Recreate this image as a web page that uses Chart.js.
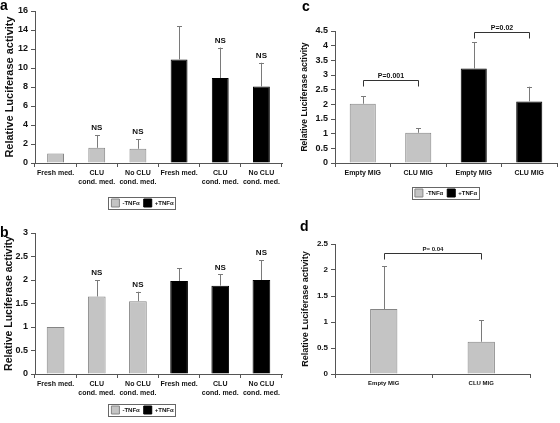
<!DOCTYPE html>
<html>
<head>
<meta charset="utf-8">
<script src="https://cdn.jsdelivr.net/npm/chart.js@4.4.0/dist/chart.umd.min.js"></script>
<style>
  body { margin: 0; background: #fff; width: 560px; height: 423px; position: relative; overflow: hidden; }
  canvas { position: absolute; }
</style>
</head>
<body>
<canvas id="pa" width="290" height="210" style="left:0;top:0"></canvas>
<canvas id="pb" width="290" height="213" style="left:0;top:210px"></canvas>
<canvas id="pc" width="270" height="210" style="left:290px;top:0"></canvas>
<canvas id="pd" width="270" height="213" style="left:290px;top:210px"></canvas>
<script>
// ---- data ----
const medLabels = [['Fresh med.'], ['CLU', 'cond. med.'], ['No CLU', 'cond. med.'],
                   ['Fresh med.'], ['CLU', 'cond. med.'], ['No CLU', 'cond. med.']];
const migLabels = ['Empty MIG', 'CLU MIG', 'Empty MIG', 'CLU MIG'];
const dLabels = ['Empty MIG', 'CLU MIG'];

// panel a
const aNoTnf = [1.0, 1.6, 1.5, null, null, null];
const aTnf   = [null, null, null, 10.9, 8.95, 8.05];
const aErr   = [0, 1.35, 1.0, 3.5, 3.2, 2.5];
const aNS    = [false, true, true, false, true, true];

// panel b
const bNoTnf = [1.0, 1.65, 1.55, null, null, null];
const bTnf   = [null, null, null, 1.98, 1.88, 2.0];
const bErr   = [0, 0.35, 0.2, 0.27, 0.24, 0.42];
const bNS    = [false, true, true, false, true, true];

// panel c
const cNoTnf = [2.02, 1.03, null, null];
const cTnf   = [null, null, 3.22, 2.1];
const cErr   = [0.26, 0.15, 0.9, 0.5];
const cBrackets = [{ from: 0, to: 1, y: 2.82, text: 'P=0.001' },
                   { from: 2, to: 3, y: 4.47, text: 'P=0.02' }];

// panel d
const dVals = [1.25, 0.62];
const dErr  = [0.82, 0.41];
const dBrackets = [{ from: 0, to: 1, y: 2.33, text: 'P= 0.04' }];

// ---- styling ----
const FONT = "'Liberation Sans', Arial, sans-serif";
const GRAY = '#c4c4c4', GRAY_EDGE = '#858585', AXIS = '#555';

const marksPlugin = {
    id: 'marks',
    afterDatasetsDraw(chart, args, opts) {
        const ctx = chart.ctx, ys = chart.scales.y, xs = chart.scales.x;
        ctx.save();
        // error bars (upper only) + NS
        chart.data.datasets.forEach((ds, di) => {
            const meta = chart.getDatasetMeta(di);
            ds.data.forEach((v, i) => {
                if (v === null || !ds.errors || !ds.errors[i]) return;
                const bar = meta.data[i];
                const top = ys.getPixelForValue(v + ds.errors[i]);
                ctx.strokeStyle = '#7a7a7a';
                ctx.lineWidth = 1;
                ctx.beginPath();
                ctx.moveTo(Math.round(bar.x) + 0.5, bar.y);
                ctx.lineTo(Math.round(bar.x) + 0.5, top);
                ctx.moveTo(Math.round(bar.x) - 2, Math.round(top) + 0.5);
                ctx.lineTo(Math.round(bar.x) + 3, Math.round(top) + 0.5);
                ctx.stroke();
                if (opts.ns && opts.ns[i]) {
                    ctx.fillStyle = '#111';
                    ctx.font = 'bold ' + opts.nsSize + 'px ' + FONT;
                    ctx.textAlign = 'center';
                    ctx.textBaseline = 'bottom';
                    ctx.fillText('NS', bar.x, top - 3);
                }
            });
        });
        // significance brackets
        (opts.brackets || []).forEach(b => {
            const x1 = Math.round(xs.getPixelForValue(b.from)) + 0.5;
            const x2 = Math.round(xs.getPixelForValue(b.to)) + 0.5;
            const y = Math.round(ys.getPixelForValue(b.y)) + 0.5;
            ctx.strokeStyle = '#333';
            ctx.lineWidth = 1;
            ctx.beginPath();
            ctx.moveTo(x1, y + 6); ctx.lineTo(x1, y); ctx.lineTo(x2, y); ctx.lineTo(x2, y + 6);
            ctx.stroke();
            ctx.fillStyle = '#111';
            ctx.font = 'bold ' + opts.pSize + 'px ' + FONT;
            ctx.textAlign = 'center';
            ctx.textBaseline = 'bottom';
            ctx.fillText(b.text, (x1 + x2) / 2, y - 1);
        });
        ctx.restore();
    },
    afterDraw(chart, args, opts) {
        const ctx = chart.ctx;
        ctx.save();
        // panel letter
        ctx.fillStyle = '#000';
        ctx.font = 'bold 14px ' + FONT;
        ctx.textAlign = 'left';
        ctx.textBaseline = 'top';
        ctx.fillText(opts.letter, opts.lx, opts.ly);
        // frame round the legend
        const lg = chart.legend;
        if (lg && lg.options.display && lg.legendHitBoxes.length) {
            const hb = lg.legendHitBoxes;
            const x0 = Math.min(...hb.map(h => h.left)) - 3;
            const x1 = Math.max(...hb.map(h => h.left + h.width)) + 2;
            const y0 = Math.min(...hb.map(h => h.top)) - 2;
            const y1 = Math.max(...hb.map(h => h.top + h.height)) + 2;
            ctx.strokeStyle = '#666';
            ctx.lineWidth = 1;
            ctx.strokeRect(Math.round(x0) + 0.5, Math.round(y0) + 0.5, Math.round(x1 - x0), Math.round(y1 - y0));
        }
        ctx.restore();
    }
};

function yAxis(max, step, tickSize, titleSize, width) {
    return {
        min: 0, max: max,
        ticks: { stepSize: step, color: '#111', padding: 3, callback: v => String(v),
                 font: { family: FONT, size: tickSize, weight: 'bold' } },
        grid: { drawOnChartArea: false, drawTicks: true, tickLength: 4, color: AXIS },
        border: { color: AXIS, width: 1 },
        title: { display: true, text: 'Relative Luciferase activity', color: '#111', padding: 0,
                 font: { family: FONT, size: titleSize, weight: 'bold' } },
        afterFit: s => { s.width = width; }
    };
}

function xAxis(labelSize, height) {
    return {
        ticks: { color: '#111', padding: 2, maxRotation: 0, autoSkip: false,
                 font: { family: FONT, size: labelSize, weight: 'bold', lineHeight: 1.25 } },
        grid: { drawOnChartArea: false, drawTicks: true, tickLength: 4, offset: true, color: AXIS },
        border: { color: AXIS, width: 1 },
        afterFit: s => { s.height = height; }
    };
}

function legendOpts(show, fullSize) {
    return {
        display: show, position: 'bottom', fullSize: fullSize,
        labels: { boxWidth: 8, boxHeight: 8, padding: 4, color: '#111',
                  font: { family: FONT, size: 6, weight: 'bold' } }
    };
}

function grayBars(data, errors, pct) {
    return { label: '-TNF\u03b1', data: data, errors: errors, grouped: false,
             backgroundColor: GRAY, borderColor: GRAY_EDGE, borderWidth: 1,
             barPercentage: pct, categoryPercentage: 1 };
}
function blackBars(data, errors, pct) {
    return { label: '+TNF\u03b1', data: data, errors: errors, grouped: false,
             backgroundColor: '#000', borderColor: '#000', borderWidth: 1,
             barPercentage: pct, categoryPercentage: 1 };
}

function makeChart(id, labels, datasets, o) {
    return new Chart(document.getElementById(id), {
        type: 'bar',
        data: { labels: labels, datasets: datasets },
        options: {
            responsive: false, animation: false,
            layout: { padding: o.padding },
            scales: { x: xAxis(o.xSize, o.xHeight), y: yAxis(o.max, o.step, o.tickSize, o.titleSize, o.yWidth) },
            plugins: {
                legend: legendOpts(o.legend, o.fullSize),
                tooltip: { enabled: false },
                marks: { letter: o.letter, lx: o.lx, ly: o.ly, ns: o.ns, nsSize: 8, brackets: o.brackets, pSize: o.pSize }
            }
        },
        plugins: [marksPlugin]
    });
}

makeChart('pa', medLabels, [grayBars(aNoTnf, aErr, 0.41), blackBars(aTnf, aErr, 0.41)],
    { max: 16, step: 2, tickSize: 9, titleSize: 11, yWidth: 32, xSize: 7, xHeight: 32,
      padding: { top: 11, right: 8, left: 3, bottom: -7 }, legend: true, fullSize: true,
      letter: 'a', lx: 0, ly: -1, ns: aNS });

makeChart('pb', medLabels, [grayBars(bNoTnf, bErr, 0.43), blackBars(bTnf, bErr, 0.43)],
    { max: 3, step: 0.5, tickSize: 9, titleSize: 10.5, yWidth: 32, xSize: 7, xHeight: 28,
      padding: { top: 23, right: 8, left: 3, bottom: -1 }, legend: true, fullSize: true,
      letter: 'b', lx: 0, ly: 16, ns: bNS });

makeChart('pc', migLabels, [grayBars(cNoTnf, cErr, 0.47), blackBars(cTnf, cErr, 0.47)],
    { max: 4.5, step: 0.5, tickSize: 9, titleSize: 8.5, yWidth: 35, xSize: 7, xHeight: 22,
      padding: { top: 31, right: 3, left: 10, bottom: 3 }, legend: true, fullSize: false,
      letter: 'c', lx: 12, ly: 0, brackets: cBrackets, pSize: 7 });

makeChart('pd', dLabels, [grayBars(dVals, dErr, 0.28)],
    { max: 2.5, step: 0.5, tickSize: 8, titleSize: 9, yWidth: 35, xSize: 6, xHeight: 20,
      padding: { top: 34, right: 30, left: 10, bottom: 29 }, legend: false, fullSize: false,
      letter: 'd', lx: 10, ly: 10, brackets: dBrackets, pSize: 6 });
</script>
</body>
</html>
